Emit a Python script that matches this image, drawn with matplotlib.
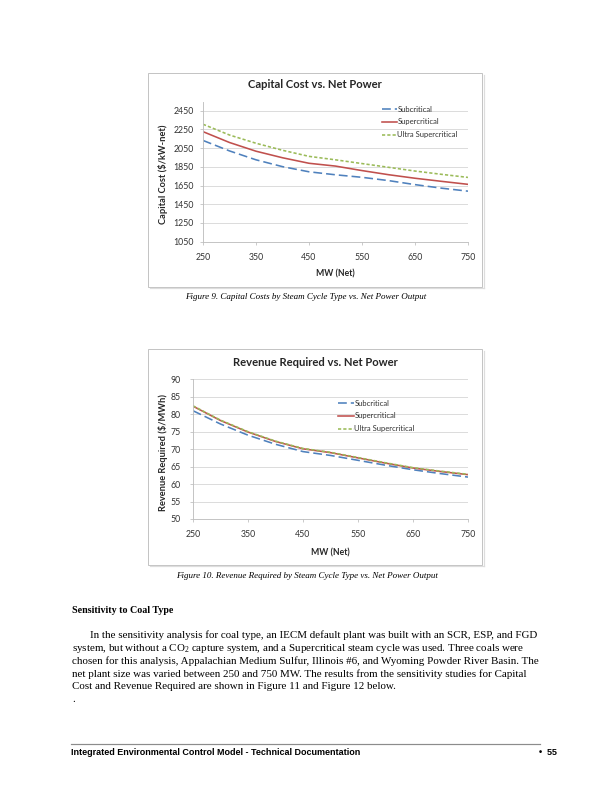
import numpy as np
import matplotlib
matplotlib.use("Agg")
import matplotlib.pyplot as plt
from matplotlib.patches import Rectangle
from matplotlib.lines import Line2D

plt.rcParams["mathtext.default"] = "regular"

########################################
#   Data
########################################

mw = [250, 300, 350, 400, 450, 500, 550, 600, 650, 700, 750]

cap_sub = [2132, 2020, 1925, 1852, 1797, 1765, 1738, 1703, 1660, 1622, 1590]
cap_super = [2226, 2110, 2017, 1947, 1888, 1858, 1810, 1766, 1728, 1695, 1663]
cap_ultra = [2305, 2190, 2102, 2027, 1962, 1925, 1885, 1845, 1805, 1770, 1737]

rev_sub = [81.0, 77.2, 74.0, 71.4, 69.3, 68.2, 66.8, 65.4, 64.1, 63.0, 62.0]
rev_super = [82.3, 78.2, 74.9, 72.2, 70.1, 69.0, 67.5, 66.0, 64.6, 63.6, 62.7]
rev_ultra = [82.4, 78.3, 75.0, 72.3, 70.2, 69.1, 67.6, 66.1, 64.7, 63.7, 62.8]

series_names = ["Subcritical", "Supercritical", "Ultra Supercritical"]
colors = ["#4F81BD", "#C0504D", "#9BBB59"]
dashes = [(5.5, 2.5), None, (2, 1.3)]

x_ticks = [250, 350, 450, 550, 650, 750]
cap_ticks = [1050, 1250, 1450, 1650, 1850, 2050, 2250, 2450]
rev_ticks = [50, 55, 60, 65, 70, 75, 80, 85, 90]

paragraph = [
    "In the sensitivity analysis for coal type, an IECM default plant was built with an SCR, ESP, and FGD",
    "system, but without a CO$_2$ capture system, and a Supercritical steam cycle was used. Three coals were",
    "chosen for this analysis, Appalachian Medium Sulfur, Illinois #6, and Wyoming Powder River Basin. The",
    "net plant size was varied between 250 and 750 MW. The results from the sensitivity studies for Capital",
    "Cost and Revenue Required are shown in Figure 11 and Figure 12 below.",
]

########################################
#   Page helpers (pixel coords, 612x792)
########################################

W, H = 612, 792
fig = plt.figure(figsize=(W / 72, H / 72), dpi=72)
CH = "Lato"
SERIF = "Liberation Serif"


def fx(x):
    return x / W


def fy(y):
    return 1 - y / H


def chart_box(x0, y0, x1, y1):
    fig.patches.append(Rectangle((fx(x0), fy(y1)), (x1 - x0) / W, (y1 - y0) / H,
                                 transform=fig.transFigure, fill=False,
                                 edgecolor="#c4c4c4", linewidth=1.0))
    # light shadow on right / bottom
    fig.lines.append(Line2D([fx(x1 + 1.2), fx(x1 + 1.2)], [fy(y0 + 2), fy(y1 + 1.2)],
                            transform=fig.transFigure, color="#dddddd", linewidth=1.2))
    fig.lines.append(Line2D([fx(x0 + 2), fx(x1 + 1.2)], [fy(y1 + 1.2), fy(y1 + 1.2)],
                            transform=fig.transFigure, color="#dddddd", linewidth=1.2))


def make_chart(left, right, top, bottom, ylim, yticks, data, title, ylabel,
               box, title_y, xlab_y, ylab_x, leg_xy, ypad):
    chart_box(*box)
    ax = fig.add_axes([fx(left), fy(bottom), (right - left) / W, (bottom - top) / H])
    for vals, name, c, d in zip(data, series_names, colors, dashes):
        line, = ax.plot(mw, vals, color=c, linewidth=1.6, label=name)
        if d is not None:
            line.set_dashes(d)
    ax.set_xlim(250, 750)
    ax.set_ylim(*ylim)
    ax.set_xticks(x_ticks)
    ax.set_yticks(yticks)
    ax.yaxis.grid(True, color="#d9d9d9", linewidth=0.9)
    ax.set_axisbelow(True)
    for s in ["top", "right"]:
        ax.spines[s].set_visible(False)
    for s in ["left", "bottom"]:
        ax.spines[s].set_color("#bfbfbf")
        ax.spines[s].set_linewidth(0.9)
    ax.tick_params(axis="both", length=3, width=0.8, color="#bfbfbf",
                   labelsize=8.8, labelcolor="#333333")
    ax.tick_params(axis="y", pad=ypad)
    ax.tick_params(axis="x", pad=8)
    for lab in ax.get_xticklabels() + ax.get_yticklabels():
        lab.set_family(CH)
    fig.text(fx(315), fy(title_y), title, ha="center", va="center",
             fontsize=11.3, fontweight="bold", family=CH, color="#262626")
    fig.text(fx((left + right) / 2), fy(xlab_y), "MW (Net)", ha="center", va="center",
             fontsize=8.6, fontweight="bold", family=CH, color="#262626")
    fig.text(fx(ylab_x), fy((top + bottom) / 2 + 3), ylabel, ha="center", va="center",
             rotation=90, fontsize=9.2, fontweight="bold", family=CH, color="#262626")
    leg = ax.legend(loc="upper left", bbox_to_anchor=(fx(leg_xy[0]), fy(leg_xy[1])),
                    bbox_transform=fig.transFigure, frameon=False,
                    prop={"family": CH, "size": 7.6}, handlelength=2.0,
                    handletextpad=0.1, labelspacing=0.78, borderpad=0, borderaxespad=0)
    for t in leg.get_texts():
        t.set_color("#333333")
    return ax


########################################
#   Figure 9
########################################

make_chart(203, 468, 101.7, 241.7, (1050, 2546), cap_ticks,
           [cap_sub, cap_super, cap_ultra],
           "Capital Cost vs. Net Power", "Capital Cost ($/kW-net)",
           (148, 72.5, 482.5, 286.5), 85, 274, 163, (381.5, 105.5), 6)

fig.text(fx(306), fy(297), "Figure 9. Capital Costs by Steam Cycle Type vs. Net Power Output",
         ha="center", va="center", fontsize=9, style="italic", family=SERIF)

########################################
#   Figure 10
########################################

make_chart(193, 468, 379.3, 519, (50, 90), rev_ticks,
           [rev_sub, rev_super, rev_ultra],
           "Revenue Required vs. Net Power", "Revenue Required ($/MWh)",
           (148, 349, 482.5, 565), 362, 553, 163, (338.3, 399.5), 9)

fig.text(fx(307), fy(576), "Figure 10. Revenue Required by Steam Cycle Type vs. Net Power Output",
         ha="center", va="center", fontsize=9, style="italic", family=SERIF)

########################################
#   Body text and footer
########################################

fig.text(fx(72), fy(610.5), "Sensitivity to Coal Type", ha="left", va="center",
         fontsize=10, fontweight="bold", family=SERIF)

for i, line in enumerate(paragraph):
    x0 = 90 if i == 0 else 72
    fig.text(fx(x0), fy(635.5 + 12.75 * i), line, ha="left", va="center",
             fontsize=11, family=SERIF)
fig.text(fx(72), fy(699), ".", ha="left", va="center", fontsize=11, family=SERIF)

fig.lines.append(Line2D([fx(71), fx(540)], [fy(744), fy(744)], transform=fig.transFigure,
                        color="#8c8c8c", linewidth=1.2))
fig.text(fx(71), fy(752.5), "Integrated Environmental Control Model - Technical Documentation",
         ha="left", va="center", fontsize=9, fontweight="bold", family="Liberation Sans")
fig.text(fx(557), fy(752.5), "\u2022  55", ha="right", va="center", fontsize=9,
         fontweight="bold", family="Liberation Sans")

fig.savefig("out.png", dpi=72)
